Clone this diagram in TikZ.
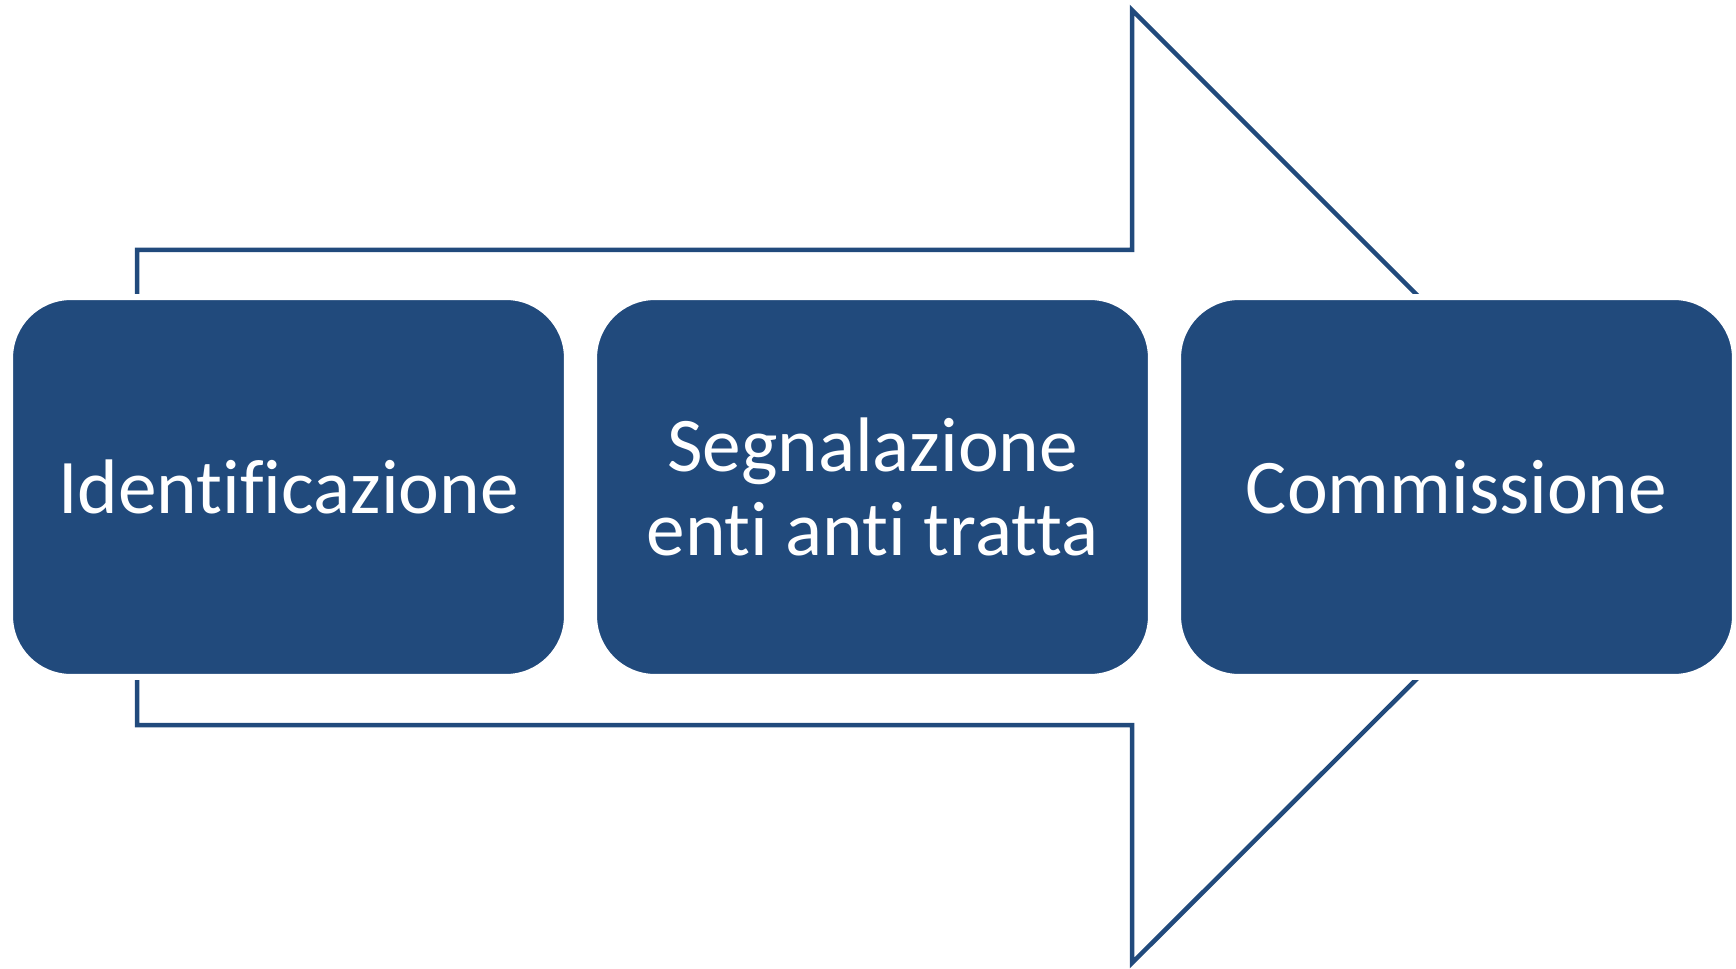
\documentclass[tikz,border=0pt]{standalone}
\usepackage{fontspec}
\setmainfont[RawFeature={-liga;-dlig;-clig}]{Carlito}
\definecolor{boxblue}{HTML}{214A7C}
\begin{document}
\begin{tikzpicture}[x=0.02cm,y=-0.02cm,
  stepbox/.style={rectangle, rounded corners=1.22cm, fill=boxblue, draw=white,
    line width=0.12cm, minimum width=11.14cm, minimum height=7.6cm,
    text=white, align=center, inner sep=0pt,
    font=\fontsize{44pt}{47.5pt}\selectfont},
  outline/.style={draw=boxblue, line width=0.09cm, line join=miter}]
\useasboundingbox (0,0) rectangle (1736,969);
\coordinate (a1) at (137,250);
\coordinate (a2) at (1132,250);
\coordinate (a3) at (1132,10);
\coordinate (tip) at (1609,487);
\coordinate (a4) at (1132,963);
\coordinate (a5) at (1132,725);
\coordinate (a6) at (137,725);
\draw[outline] (a1) -- (a2) -- (a3) -- (tip) -- (a4) -- (a5) -- (a6) -- cycle;
\node[stepbox] (b1) at (288.5,487) {Identificazione};
\node[stepbox] (b2) at (872.5,487) {Segnalazione\\enti anti tratta};
\node[stepbox] (b3) at (1456.5,487) {Commissione};
\end{tikzpicture}
\end{document}
